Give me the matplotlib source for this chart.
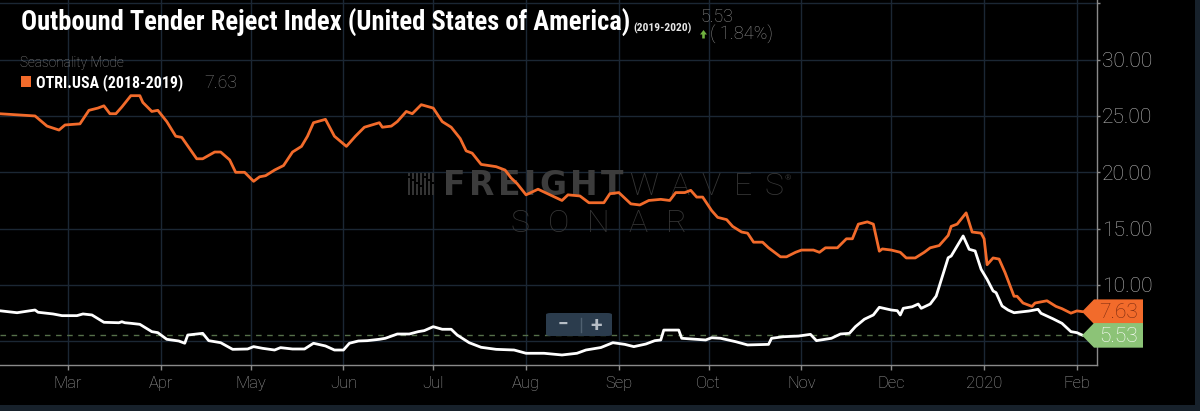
import matplotlib
matplotlib.use("Agg")
import matplotlib.pyplot as plt
from matplotlib import font_manager as fm
from matplotlib.patches import Rectangle, Polygon, FancyBboxPatch
from matplotlib.lines import Line2D
import pandas as pd

W, H = 1200, 411

# ---------------- data ----------------
otri_2018_dates = [
    "2019-02-06", "2019-02-18", "2019-02-22", "2019-02-26", "2019-02-28",
    "2019-03-05", "2019-03-08", "2019-03-11", "2019-03-13", "2019-03-15", "2019-03-17",
    "2019-03-19", "2019-03-22", "2019-03-25", "2019-03-26", "2019-03-29", "2019-03-31",
    "2019-04-03", "2019-04-06", "2019-04-08", "2019-04-13", "2019-04-15", "2019-04-19",
    "2019-04-21", "2019-04-24", "2019-04-26", "2019-04-29",
    "2019-05-02", "2019-05-04", "2019-05-06", "2019-05-09", "2019-05-12", "2019-05-15",
    "2019-05-18", "2019-05-20", "2019-05-22", "2019-05-26", "2019-05-29",
    "2019-06-02", "2019-06-05", "2019-06-08", "2019-06-13", "2019-06-14", "2019-06-17",
    "2019-06-19", "2019-06-22", "2019-06-24", "2019-06-27",
    "2019-07-01", "2019-07-04", "2019-07-07", "2019-07-10", "2019-07-12", "2019-07-14",
    "2019-07-17", "2019-07-22", "2019-07-25", "2019-07-27", "2019-07-29",
    "2019-08-01", "2019-08-05", "2019-08-13", "2019-08-15", "2019-08-19", "2019-08-22",
    "2019-08-27", "2019-08-29",
    "2019-09-01", "2019-09-05", "2019-09-08", "2019-09-11", "2019-09-15", "2019-09-18",
    "2019-09-20", "2019-09-23", "2019-09-25", "2019-09-27", "2019-09-29",
    "2019-10-02", "2019-10-04", "2019-10-07", "2019-10-09", "2019-10-12", "2019-10-14",
    "2019-10-16", "2019-10-19", "2019-10-21", "2019-10-25", "2019-10-27", "2019-10-30",
    "2019-11-01", "2019-11-05", "2019-11-07", "2019-11-09", "2019-11-13", "2019-11-16",
    "2019-11-18", "2019-11-20", "2019-11-23", "2019-11-25", "2019-11-27", "2019-11-28",
    "2019-12-01", "2019-12-04", "2019-12-06", "2019-12-09", "2019-12-12", "2019-12-14",
    "2019-12-17", "2019-12-20", "2019-12-21", "2019-12-23", "2019-12-26", "2019-12-28",
    "2019-12-31",
    "2020-01-01", "2020-01-02", "2020-01-04", "2020-01-06", "2020-01-08", "2020-01-11",
    "2020-01-12", "2020-01-14", "2020-01-17", "2020-01-18", "2020-01-22", "2020-01-25",
    "2020-01-27", "2020-01-30",
    "2020-02-01", "2020-02-03",
]
otri_2018_values = [
    25.2, 25.0, 24.1, 23.75, 24.2,
    24.3, 25.5, 25.7, 25.9, 25.2, 25.2, 25.8, 26.8, 26.8, 26.2, 25.4, 25.5,
    24.5, 23.2, 23.1, 21.2, 21.2, 21.8, 21.8, 21.1, 20.0, 20.0,
    19.2, 19.6, 19.7, 20.2, 20.6, 21.8, 22.3, 23.2, 24.4, 24.7, 23.2,
    22.3, 23.2, 24.0, 24.4, 24.0, 24.1, 24.5, 25.4, 25.2, 26.0,
    25.7, 24.5, 24.0, 23.0, 21.9, 21.7, 20.7, 20.5, 20.2, 19.5, 19.0,
    18.0, 18.5, 17.5, 18.0, 17.9, 17.3, 17.3, 18.1,
    18.2, 17.2, 17.1, 17.5, 17.6, 17.5, 18.2, 18.2, 18.4, 17.8, 17.8,
    16.6, 16.0, 15.8, 15.2, 14.7, 14.6, 13.8, 13.8, 13.3, 12.5, 12.5, 12.9,
    13.1, 13.1, 12.9, 13.3, 13.3, 14.1, 14.1, 15.4, 15.6, 15.4, 13.0, 13.2,
    13.1, 12.9, 12.4, 12.4, 12.9, 13.3, 13.5, 14.4, 15.2, 15.4, 16.4, 14.7, 14.6,
    14.1, 11.8, 12.4, 12.3, 11.1, 9.0, 9.0, 8.4, 8.1, 8.4, 8.6, 8.1, 7.9, 7.5,
    7.7, 7.63,
]

otri_2019_dates = [
    "2019-02-06", "2019-02-12", "2019-02-18", "2019-02-19", "2019-02-24", "2019-02-27",
    "2019-03-04", "2019-03-06", "2019-03-09", "2019-03-13", "2019-03-18", "2019-03-19",
    "2019-03-20", "2019-03-22", "2019-03-25", "2019-03-29", "2019-03-31",
    "2019-04-03", "2019-04-07", "2019-04-09", "2019-04-10", "2019-04-15", "2019-04-17",
    "2019-04-21", "2019-04-25", "2019-04-30",
    "2019-05-02", "2019-05-05", "2019-05-09", "2019-05-11", "2019-05-15", "2019-05-19",
    "2019-05-22", "2019-05-26", "2019-05-29",
    "2019-06-01", "2019-06-03", "2019-06-06", "2019-06-09", "2019-06-13", "2019-06-15",
    "2019-06-19", "2019-06-23", "2019-06-26", "2019-06-28",
    "2019-07-01", "2019-07-04", "2019-07-07", "2019-07-09", "2019-07-13", "2019-07-17",
    "2019-07-22", "2019-07-28",
    "2019-08-01", "2019-08-07", "2019-08-13", "2019-08-18", "2019-08-21", "2019-08-26",
    "2019-08-30",
    "2019-09-03", "2019-09-06", "2019-09-10", "2019-09-13", "2019-09-15", "2019-09-16",
    "2019-09-21", "2019-09-22", "2019-09-30",
    "2019-10-02", "2019-10-05", "2019-10-10", "2019-10-14", "2019-10-21", "2019-10-22",
    "2019-10-26", "2019-10-31",
    "2019-11-04", "2019-11-06", "2019-11-11", "2019-11-14", "2019-11-17", "2019-11-19",
    "2019-11-22", "2019-11-25", "2019-11-27",
    "2019-12-01", "2019-12-03", "2019-12-04", "2019-12-05", "2019-12-08", "2019-12-10",
    "2019-12-11", "2019-12-14", "2019-12-16", "2019-12-20", "2019-12-21", "2019-12-25",
    "2019-12-27", "2019-12-29", "2019-12-31",
    "2020-01-02", "2020-01-04", "2020-01-05", "2020-01-07", "2020-01-09", "2020-01-11",
    "2020-01-16", "2020-01-19", "2020-01-20", "2020-01-24", "2020-01-27", "2020-01-30",
    "2020-02-01", "2020-02-03",
]
otri_2019_values = [
    7.72, 7.54, 7.78, 7.58, 7.43, 7.28,
    7.28, 7.43, 7.34, 6.69, 6.65, 6.74, 6.65, 6.60, 6.51, 5.86, 5.77,
    5.18, 5.03, 4.83, 5.56, 5.71, 5.06, 4.88, 4.29, 4.32,
    4.53, 4.38, 4.23, 4.44, 4.32, 4.32, 4.83, 4.59, 4.23,
    4.23, 4.83, 5.03, 5.06, 5.18, 5.27, 5.65, 5.65, 5.86, 5.95,
    6.30, 6.07, 6.07, 5.56, 4.88, 4.47, 4.29, 4.23,
    3.94, 3.94, 3.79, 3.94, 4.23, 4.45, 4.88,
    4.73, 4.53, 4.76, 5.06, 5.12, 6.00, 6.00, 5.27, 5.12,
    5.32, 5.27, 4.97, 4.68, 4.73, 5.27, 5.41, 5.47,
    5.62, 5.06, 5.27, 5.65, 5.71, 6.30, 6.96, 7.34, 8.02,
    7.78, 7.72, 7.34, 7.93, 8.07, 8.31, 7.93, 8.31, 9.02, 12.42, 12.57, 14.35,
    13.17, 13.02, 11.39,
    10.50, 9.47, 9.32, 8.14, 7.78, 7.54, 7.69, 7.84, 7.49, 7.00, 6.60, 5.86,
    5.77, 5.53,
]

x_tick_dates = ["2019-03-01", "2019-04-01", "2019-05-01", "2019-06-01", "2019-07-01",
                "2019-08-01", "2019-09-01", "2019-10-01", "2019-11-01", "2019-12-01",
                "2020-01-01", "2020-02-01"]
x_tick_labels = ["Mar", "Apr", "May", "Jun", "Jul", "Aug", "Sep", "Oct", "Nov", "Dec",
                 "2020", "Feb"]
y_ticks = [5, 10, 15, 20, 25, 30, 35]
y_tick_labels = ["", "10.00", "15.00", "20.00", "25.00", "30.00", ""]

title_text = "Outbound Tender Reject Index (United States of America)"
title_period = "(2019-2020)"
current_value = "5.53"
current_change = "( 1.84%)"
mode_label = "Seasonality Mode"
compare_label = "OTRI.USA (2018-2019)"
compare_value = "7.63"

# ---------------- style ----------------
ORANGE = "#f26b2b"
GREEN = "#8cc377"
GRID = "#1b2734"
SPINE = "#8a8a8a"
NAVY = "#17212b"

names = {f.name for f in fm.fontManager.ttflist}


def pick(cands, default):
    for c in cands:
        if c in names:
            return c
    return default


BASE = pick(["Roboto"], "DejaVu Sans")
COND = pick(["Roboto Condensed", "Liberation Sans Narrow"], BASE)
plt.rcParams["font.family"] = [BASE, "DejaVu Sans"]

PT = 72.0 / 100.0  # points per pixel at dpi 100


def fx(x):
    return x / W


def fy(y):
    return 1 - y / H


fig = plt.figure(figsize=(W / 100, H / 100), dpi=100, facecolor="black")
ax = fig.add_axes([0, 46 / H, 1097 / W, 365 / H])
ax.set_facecolor("black")
renderer = fig.canvas.get_renderer()


def fit(t, target):
    w = t.get_window_extent(renderer).width
    if w > 0:
        t.set_fontsize(t.get_fontsize() * target / w)


# lines
d18 = pd.to_datetime(otri_2018_dates)
d19 = pd.to_datetime(otri_2019_dates)
ax.plot(d18, otri_2018_values, color=ORANGE, lw=2.0, solid_joinstyle="round",
        solid_capstyle="round", zorder=4)
ax.plot(d19, otri_2019_values, color="white", lw=2.0, solid_joinstyle="round",
        solid_capstyle="round", zorder=5)
ax.axhline(otri_2019_values[-1], color="#56704a", lw=1.0, dashes=(4, 4), zorder=3)

ax.set_xlim(pd.Timestamp("2019-02-06 07:00"), pd.Timestamp("2020-02-07 17:00"))
ax.set_ylim(2.9, 35.29)

ax.set_xticks(pd.to_datetime(x_tick_dates))
ax.set_xticklabels(x_tick_labels)
ax.yaxis.tick_right()
ax.set_yticks(y_ticks)
ax.set_yticklabels(y_tick_labels)
ax.set_axisbelow(True)
ax.grid(True, color=GRID, lw=1.0)

for s in ("left", "top"):
    ax.spines[s].set_visible(False)
for s in ("right", "bottom"):
    ax.spines[s].set_color(SPINE)
    ax.spines[s].set_linewidth(1.0)

ax.tick_params(axis="x", colors=SPINE, length=5 * PT, width=1, pad=6 * PT,
               labelsize=16.5 * PT, labelcolor="#a2a2a2")
ax.tick_params(axis="y", colors=SPINE, length=3 * PT, width=1, pad=2 * PT,
               labelsize=21 * PT, labelcolor="#b5b5b5")
for t in ax.get_xticklabels() + ax.get_yticklabels():
    t.set_fontweight("light")

# watermark (behind lines)
wm_kw = dict(transform=fig.transFigure, zorder=1.5, va="baseline")


def spaced(x0, x1, ybase, s, **kw):
    ts = [ax.text(0, fy(ybase), ch, **wm_kw, **kw) for ch in s]
    ws = [t.get_window_extent(renderer).width for t in ts]
    gap = (x1 - x0 - sum(ws)) / max(len(s) - 1, 1)
    x = x0
    for t, w in zip(ts, ws):
        t.set_x(fx(x))
        x += w + gap


spaced(443, 623, 195, "FREIGHT", fontsize=33 * PT, fontweight="heavy",
       color="#3c3c3c", family="DejaVu Sans")
spaced(629, 783, 195, "WAVES", fontsize=32 * PT, fontweight="light", color="#363636")
spaced(510, 687, 232, "SONAR", fontsize=32 * PT, fontweight="light", color="#363636")
ax.text(fx(785), fy(180), "®", fontsize=8 * PT, color="#363636", **wm_kw)
for i, bx in enumerate(range(408, 434, 4)):
    ax.add_patch(Rectangle((fx(bx), fy(195)), fx(2), 22 / H, transform=fig.transFigure,
                           facecolor="#343434", edgecolor="none", zorder=1.5))
    ax.add_patch(Rectangle((fx(bx), fy(178 + 3 * (i % 4))), fx(2), 1.5 / H,
                           transform=fig.transFigure, facecolor="black",
                           edgecolor="none", zorder=1.6))

# zoom widget
ax.add_patch(FancyBboxPatch((fx(546), fy(336)), fx(66), 23 / H,
                            boxstyle="round,pad=0,rounding_size=0.004",
                            transform=fig.transFigure, facecolor="#2b3c4d",
                            edgecolor="none", zorder=6))
ax.add_line(Line2D([fx(581), fx(581)], [fy(318), fy(332)], transform=fig.transFigure,
                   color="#4f6070", lw=1, zorder=7))
ax.text(fx(563), fy(325), "\u2212", transform=fig.transFigure, ha="center", va="center",
        fontsize=19 * PT, fontweight="bold", color="#b7bec6", zorder=7)
ax.text(fx(596), fy(325), "+", transform=fig.transFigure, ha="center", va="center",
        fontsize=21 * PT, fontweight="bold", color="#b7bec6", zorder=7)

# frame strips
fig.patches.append(Rectangle((0, 0), 1, 6 / H, transform=fig.transFigure,
                             facecolor=NAVY, edgecolor="none"))
fig.patches.append(Rectangle((fx(1195), 0), 5 / W, 1, transform=fig.transFigure,
                             facecolor=NAVY, edgecolor="none"))


# end-value tags
def end_tag(value, face, tcolor, text):
    cy = H - ax.transData.transform((0, value))[1]  # pixel row from top
    hh = 12.3
    pts = [(1082, cy), (1094, cy - hh), (1143, cy - hh), (1143, cy + hh), (1094, cy + hh)]
    fig.patches.append(Polygon([(fx(x), fy(y)) for x, y in pts], closed=True,
                               transform=fig.transFigure, facecolor=face,
                               edgecolor="none"))
    fig.text(fx(1099), fy(cy + 1), text, va="center", ha="left", fontsize=21 * PT,
             fontweight="light", color=tcolor)


end_tag(otri_2018_values[-1], ORANGE, "#7a2a10", compare_value)
end_tag(otri_2019_values[-1], GREEN, "white", current_value)

# header texts
t = fig.text(fx(20.7), fy(30.7), title_text, va="baseline", ha="left", family=COND,
             fontweight="bold", fontsize=23.5 * PT, color="white")
fit(t, 609)
t = fig.text(fx(633), fy(31.5), title_period, va="baseline", ha="left", family=COND,
             fontweight="bold", fontsize=10.5 * PT, color="#e6e6e6")
fit(t, 58)
t = fig.text(fx(700), fy(21.5), current_value, va="baseline", ha="left",
             fontweight="light", fontsize=17 * PT, color="#8e8e8e")
fit(t, 33)
fig.patches.append(Polygon([(fx(x), fy(y)) for x, y in
                            [(700, 34.5), (703.5, 30), (707, 34.5), (704.8, 34.5),
                             (704.8, 38.5), (702.2, 38.5), (702.2, 34.5)]],
                           closed=True, transform=fig.transFigure,
                           facecolor="#6fb13f", edgecolor="none"))
t = fig.text(fx(710), fy(38.3), current_change, va="baseline", ha="left",
             fontweight="light", fontsize=16.5 * PT, color="#8e8e8e")
fit(t, 63)
t = fig.text(fx(20), fy(66.5), mode_label, va="baseline", ha="left",
             fontweight="light", fontsize=13.5 * PT, color="#8a8a8a")
fig.patches.append(Rectangle((fx(20.7), fy(86.7)), 10 / W, 10.7 / H,
                             transform=fig.transFigure, facecolor=ORANGE,
                             edgecolor="none"))
t = fig.text(fx(36), fy(87.7), compare_label, va="baseline", ha="left", family=COND,
             fontweight="bold", fontsize=15 * PT, color="white")
fit(t, 147)
t = fig.text(fx(204), fy(88), compare_value, va="baseline", ha="left",
             fontweight="light", fontsize=17 * PT, color="#7d7d7d")
fit(t, 33)

fig.savefig("out.png", dpi=100, facecolor="black")
